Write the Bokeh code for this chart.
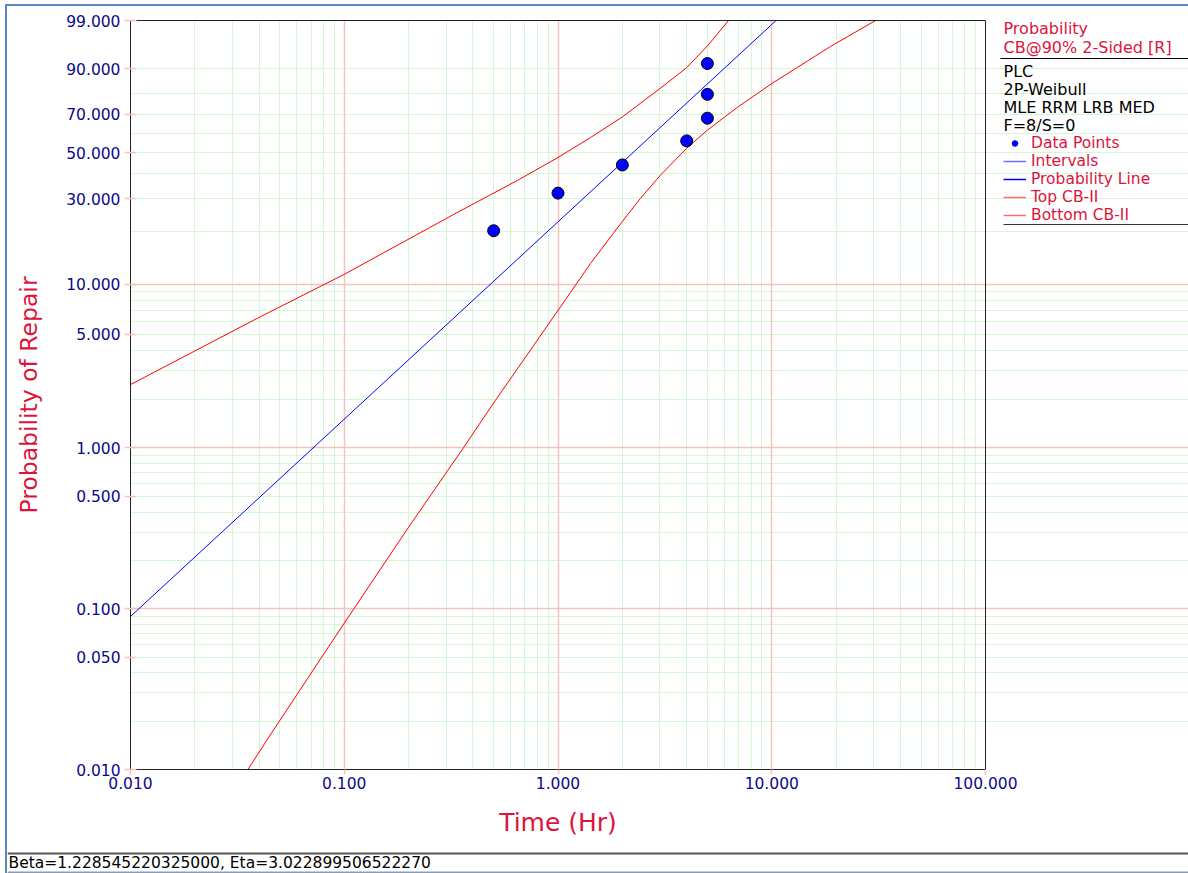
import numpy as np
from bokeh.plotting import figure
from bokeh.layouts import column, row
from bokeh.models import (Range1d, FixedTicker, CustomJSTickFormatter, Grid, Label,
                          Legend, LegendItem, BoxAnnotation, LogAxis, Span)
from bokeh.embed import file_html
from bokeh.resources import INLINE

# ---- data -------------------------------------------------------------
# failure times (Hr) and median-rank unreliability (%)
fail_time = [0.5, 1.0, 2.0, 4.0, 5.0, 5.0, 5.0]
fail_unrel = [20.24, 32.14, 44.05, 55.95, 67.86, 79.76, 91.67]

# fitted 2P-Weibull parameters
beta = 1.228545220325000
eta = 3.022899506522270

# 90% two-sided likelihood-ratio bounds (time in Hr, unreliability in %)
top_time = [0.01, 0.039, 0.1, 0.324, 0.646, 1.0, 1.42, 2.0, 3.0, 4.0, 5.0, 6.28]
top_unrel = [2.46, 6.22, 11.4, 24.8, 37.2, 47.6, 57.7, 68.5, 82.4, 90.4, 95.9, 99.0]
bottom_time = [0.0354, 0.046, 0.0995, 0.200, 0.3625, 0.510, 1.144, 1.42, 2.0, 2.43,
               3.02, 4.0, 5.0, 7.0, 10.0, 18.8, 30.6]
bottom_unrel = [0.0100, 0.0171, 0.0807, 0.322, 1.01, 1.97, 8.91, 13.2, 22.75, 30.2,
                39.5, 52.2, 61.6, 73.9, 84.5, 95.8, 99.0]

# axis ticks and grid positions
x_tick_hr = [0.01, 0.1, 1, 10, 100]
x_major_grid = [0.1, 1, 10]
x_minor_grid = [m * d for d in (0.01, 0.1, 1, 10) for m in range(2, 10)]
y_tick_pct = [0.01, 0.05, 0.1, 0.5, 1, 5, 10, 30, 50, 70, 90, 99]
y_major_grid = [0.1, 1, 10]
y_minor_grid = [m * d for d in (0.01, 0.1, 1, 10) for m in range(2, 10)]

legend_header = ["Probability", "CB@90% 2-Sided [R]"]
legend_info = ["PLC", "2P-Weibull", "MLE RRM LRB MED", "F=8/S=0"]
legend_labels = ["Data Points", "Intervals", "Probability Line", "Top CB-II", "Bottom CB-II"]


def weib(pct):
    """Weibull probability-paper ordinate for an unreliability given in percent."""
    f = np.asarray(pct, dtype=float) / 100.0
    return np.log(-np.log(1.0 - f))


# ---- styling ----------------------------------------------------------
FONT = "DejaVu Sans"
CRIMSON = "#DC143C"
NAVY = "#0A0A8C"
GREEN_GRID = "#D4F7D4"
RED_GRID = "#F6C2BE"
FRAME_BLUE = "#5B87C0"

# page layout (pixels): content starts inside a 2px page frame at (7, 6)
X0, Y0 = 7, 6
PLOT_BOTTOM = 800       # main chart canvas | caption strip
STATUS_Y = 852
PAGE_W, PAGE_H = 1188, 873
FL, FT, FR, FB = 130, 20, 985, 769   # probability-paper edges on the page
T_MIN, T_MAX = 0.01, 100.0

# the plotting frame runs on to the page edge so the legend panel sits inside it
decade_px = (FR - FL) / np.log10(T_MAX / T_MIN)
t_edge = T_MIN * 10 ** ((PAGE_W - FL) / decade_px)


def sx(px):
    return px - FL


def sy(py):
    return FB - py


p = figure(width=PAGE_W - X0, height=PLOT_BOTTOM - Y0, x_axis_type="log",
           x_range=Range1d(T_MIN, t_edge),
           y_range=Range1d(float(weib(0.01)), float(weib(99))),
           min_border_left=FL - X0, min_border_right=0,
           min_border_top=FT - Y0, min_border_bottom=PLOT_BOTTOM - FB,
           output_backend="svg", toolbar_location=None)
p.background_fill_color = "white"
p.border_fill_color = "white"
p.outline_line_color = None
p.grid.visible = False

paper = (T_MIN, T_MAX)
p.add_layout(Grid(dimension=0, ticker=FixedTicker(ticks=x_minor_grid),
                  grid_line_color=GREEN_GRID, grid_line_width=1), "center")
p.add_layout(Grid(dimension=1, ticker=FixedTicker(ticks=list(weib(y_minor_grid))),
                  bounds=paper, grid_line_color=GREEN_GRID, grid_line_width=1), "center")
p.add_layout(Grid(dimension=0, ticker=FixedTicker(ticks=x_major_grid),
                  grid_line_color=RED_GRID, grid_line_width=1.5), "center")
p.add_layout(Grid(dimension=1, ticker=FixedTicker(ticks=list(weib(y_major_grid))),
                  bounds=paper, grid_line_color=RED_GRID, grid_line_width=1.5), "center")

p.xaxis.bounds = paper
p.xaxis.ticker = FixedTicker(ticks=x_tick_hr, minor_ticks=[])
p.xaxis.formatter = CustomJSTickFormatter(code="return tick.toFixed(3);")
p.yaxis.ticker = FixedTicker(ticks=list(weib(y_tick_pct)), minor_ticks=[])
p.yaxis.formatter = CustomJSTickFormatter(
    code="return ((1 - Math.exp(-Math.exp(tick))) * 100).toFixed(3);")
for ax in (p.xaxis, p.yaxis):
    ax.axis_line_color = "#222222"
    ax.axis_line_width = 1
    ax.major_tick_line_color = RED_GRID
    ax.major_tick_line_width = 1.5
    ax.minor_tick_line_color = None
    ax.major_label_text_font = FONT
    ax.major_label_text_font_size = "15.5px"
    ax.major_label_text_color = NAVY
    ax.axis_label_text_font = FONT
    ax.axis_label_text_font_style = "normal"
    ax.axis_label_text_color = CRIMSON
p.xaxis.major_tick_out = 5
p.xaxis.major_tick_in = 0
p.xaxis.major_label_standoff = 2
p.yaxis.major_tick_out = 6
p.yaxis.major_tick_in = 6
p.yaxis.major_label_standoff = 4
p.yaxis.axis_label = "Probability of Repair"
p.yaxis.axis_label_text_font_size = "23.5px"
p.yaxis.axis_label_standoff = 20

# top and right edges of the probability paper
top_edge = LogAxis(bounds=paper, ticker=FixedTicker(ticks=[], minor_ticks=[]),
                   axis_line_color="#222222", major_tick_out=0, major_tick_in=0,
                   major_label_standoff=0, major_label_text_font_size="0px")
p.add_layout(top_edge, "above")
p.add_layout(Span(location=T_MAX, dimension="height", line_color="#222222", line_width=1))

# probability line from the fitted parameters
line_t = np.array([T_MIN, T_MAX])
line_w = beta * (np.log(line_t) - np.log(eta))
p.line(line_t, line_w, line_color="#0000FF", line_width=1)

# confidence bounds
p.line(top_time, weib(top_unrel), line_color="#FF0000", line_width=1)
p.line(bottom_time, weib(bottom_unrel), line_color="#FF0000", line_width=1)

# data points
p.scatter(fail_time, weib(fail_unrel), size=12, marker="circle",
          fill_color="#0000FF", line_color="black", line_width=1)

# ---- legend panel -------------------------------------------------------
# swatch renderers styled like the series; their single NaN row is never drawn
nan = [float("nan")]
sw_pts = p.scatter(x=nan, y=nan, size=9, marker="circle",
                   fill_color="#0000FF", line_color="#0000FF")
sw_int = p.line(x=nan, y=nan, line_color="#6E6EFF", line_width=1.5)
sw_prob = p.line(x=nan, y=nan, line_color="#0000FF", line_width=1.5)
sw_top = p.line(x=nan, y=nan, line_color="#FF6E6E", line_width=1.5)
sw_bot = p.line(x=nan, y=nan, line_color="#FF6E6E", line_width=1.5)

legend = Legend(items=[LegendItem(label=lab, renderers=[r]) for lab, r in
                       zip(legend_labels, [sw_pts, sw_int, sw_prob, sw_top, sw_bot])],
                location=(sx(1003), sy(224)))
legend.label_text_font = FONT
legend.label_text_font_size = "15.5px"
legend.label_text_color = CRIMSON
legend.label_height = 18
legend.glyph_height = 14
legend.glyph_width = 23
legend.label_standoff = 5
legend.spacing = 0
legend.padding = 0
legend.margin = 0
legend.border_line_color = None
legend.background_fill_alpha = 0
p.add_layout(legend)

for i, txt in enumerate(legend_header):
    p.add_layout(Label(x=sx(1003), y=sy(28 + i * 19), x_units="screen", y_units="screen",
                       text=txt, text_font=FONT, text_font_size="16px",
                       text_color=CRIMSON, text_baseline="middle"))
for i, txt in enumerate(legend_info):
    p.add_layout(Label(x=sx(1003), y=sy(71 + i * 18), x_units="screen", y_units="screen",
                       text=txt, text_font=FONT, text_font_size="16px",
                       text_color="black", text_baseline="middle"))


def rule(x0, x1, y_top, y_bot, color):
    p.add_layout(BoxAnnotation(left=sx(x0), right=sx(x1), top=sy(y_top), bottom=sy(y_bot),
                               left_units="screen", right_units="screen",
                               top_units="screen", bottom_units="screen",
                               fill_color=color, fill_alpha=1, line_color=None))


rule(1000, PAGE_W, 57.5, 58.5, "black")
rule(1003, PAGE_W, 223.5, 224.5, "#333333")

# ---- caption strip: x-axis title and status bar (page-pixel coordinates) --
st = figure(width=PAGE_W - X0, height=PAGE_H - PLOT_BOTTOM,
            x_range=Range1d(X0, PAGE_W), y_range=Range1d(PAGE_H, PLOT_BOTTOM),
            x_axis_location=None, y_axis_location=None,
            min_border=0, output_backend="svg", toolbar_location=None)
st.outline_line_color = None
st.grid.visible = False
st.background_fill_color = "white"
st.border_fill_color = "white"
st.add_layout(Label(x=(FL + FR) / 2, y=822, text="Time (Hr)", text_font=FONT,
                    text_font_size="25px", text_color=CRIMSON,
                    text_align="center", text_baseline="middle"))
st.add_layout(BoxAnnotation(left=X0, right=PAGE_W, top=STATUS_Y, bottom=STATUS_Y + 2,
                            fill_color="#555555", fill_alpha=1, line_color=None))
st.add_layout(BoxAnnotation(left=X0, right=PAGE_W, top=PAGE_H - 2, bottom=PAGE_H,
                            fill_color="#8A9BB5", fill_alpha=1, line_color=None))
st.add_layout(Label(x=8, y=862.5, text=f"Beta={beta:.15f}, Eta={eta:.15f}",
                    text_font=FONT, text_font_size="15.5px", text_color="black",
                    text_baseline="middle"))

page = column(row(p, spacing=0), st, spacing=0,
              margin=(Y0 - 2, 0, 0, X0 - 2),
              styles={"border-left": f"2px solid {FRAME_BLUE}",
                      "border-top": f"2px solid {FRAME_BLUE}"})

open("out.html", "w").write(file_html(page, INLINE))
